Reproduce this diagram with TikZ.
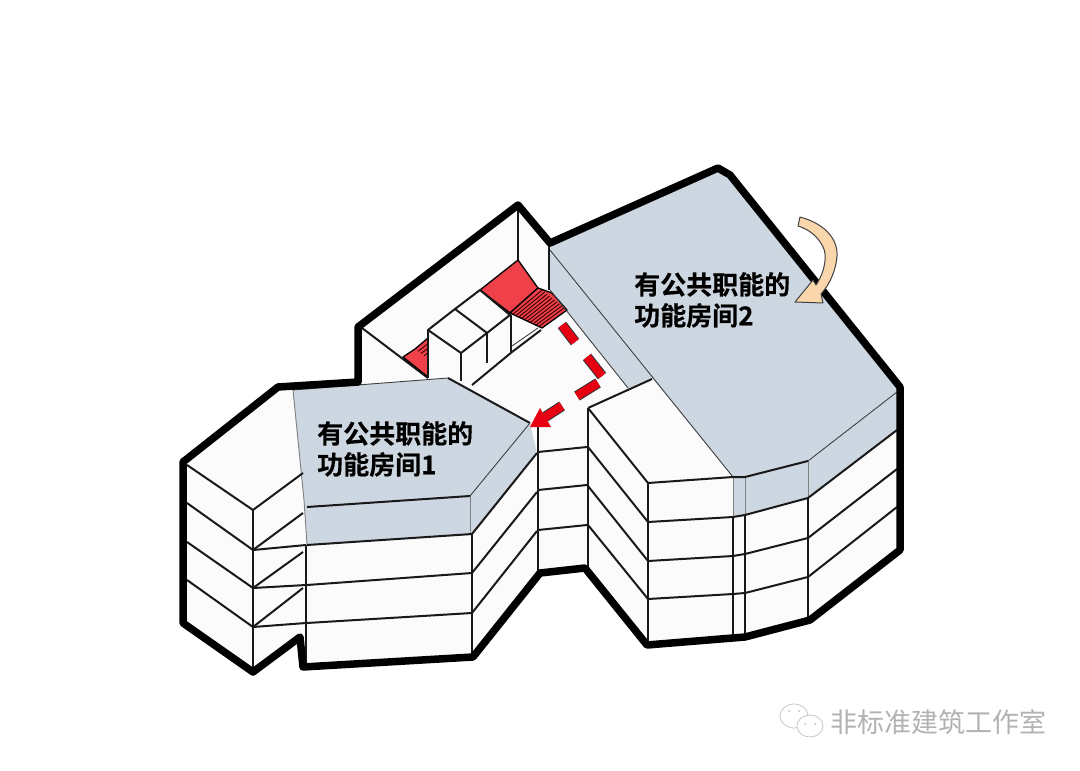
\documentclass[tikz,border=0pt]{standalone}
\usepackage{xcolor}
\usepackage{fontspec}
\usepackage[outline]{contour}
\usetikzlibrary{calc}
\newfontfamily\cjkbold[BoldFont={Noto Sans CJK SC Bold},BoldFeatures={FakeBold=0.6}]{Noto Sans CJK SC}
\newfontfamily\cjkplain{Noto Sans CJK SC}
\definecolor{roofblue}{HTML}{CDD7E1}
\definecolor{wallwhite}{HTML}{FBFBFB}
\definecolor{stairred}{HTML}{F0404A}
\definecolor{routered}{HTML}{E60012}
\definecolor{turnfill}{HTML}{FAD6AC}
\contourlength{2pt}

\begin{document}
\begin{tikzpicture}[
    x=1pt, y=-1pt,
    line join=round,
    outerline/.style={draw=black, line width=7.5pt},
    wall/.style={draw=black!90, line width=2pt},
    thinwall/.style={draw=black!75, line width=0.9pt},
    roof/.style={fill=roofblue},
    stair/.style={draw=black, line width=1.3pt, fill=stairred},
    tread/.style={draw=black!80!red, line width=0.9pt},
    routeseg/.style={line width=8.5pt, draw=routered,
        preaction={draw=black!80, line width=10.5pt}},
    roomlabel/.style={font=\cjkbold\bfseries\fontsize{26}{31}\selectfont, align=left, anchor=west, inner sep=0pt},
    logo/.style={draw=gray!45, line width=0.8pt, fill=white},
]
\useasboundingbox (0,0) rectangle (1080,771);

% --- White body of the whole block -------------------------------------------
\fill[wallwhite] (183,462) -- (278,387) -- (358,382) -- (358,327) -- (518,205)
    -- (550,243) -- (718,168) -- (730,175) -- (900,387) -- (900,550) -- (810,620)
    -- (745,637) -- (647,645) -- (585,568) -- (540,573) -- (473,657) -- (303,667)
    -- (300,637) -- (253,672) -- (183,623) -- cycle;

% --- Blue roofs and the strips below them --------------------------------------
\fill[roof] (550,245) -- (718,170) -- (730,177) -- (898,388) -- (897,430) -- (808,498)
    -- (745,515) -- (733,517) -- (733,477) -- (652,378) -- (628,388) -- (550,290) -- cycle;
\fill[roof] (293,390) -- (448,378) -- (530,423) -- (537,453) -- (472,535)
    -- (307,545) -- (304,500) -- cycle;

% --- Back wing: wall corners, stairs and the small boxes ----------------------
\draw[wall] (362,328) -- (428,378);
\draw[wall] (518,208) -- (518,260);
\draw[stair] (518,260) -- (538,288) -- (510,313) -- (480,290) -- cycle;
\draw[stair] (510,313) -- (538,288) -- (552,293) -- (567,310) -- (542,328) -- cycle;
\foreach \t in {0.09,0.18,...,0.95}
    \draw[tread] ($(510,313)!\t!(542,328)$) -- ($(540,288)!\t!(567,310)$);
\draw[stair] (403,357) -- (415,349) -- (428,338) -- (428,377) -- cycle;
\foreach \t in {0.25,0.5,0.75}
    \draw[tread] ($(415,349)!\t!(427,358)$) -- ($(427,340)!\t!(427,358)$);
\draw[wall] (428,330) -- (455,309) -- (487,333) -- (461,353) -- cycle;
\draw[wall] (455,309) -- (480,290) -- (510,315) -- (487,333);
\draw[wall] (428,330) -- (428,378);
\draw[wall] (461,353) -- (461,381);
\draw[wall] (487,333) -- (487,363);
\draw[wall] (511,315) -- (511,352);
\draw[wall] (472,385) -- (512,352) -- (541,330);
\draw[thinwall] (512,346) -- (538,328);

% --- Dashed route through the wing, ending in the red head --------------------
\draw[routeseg] (562,325) -- (575,342);
\draw[routeseg] (587,357) -- (602,376);
\draw[routeseg] (598,383) -- (577,396);
\draw[routeseg] (562,406) -- (545,417);
\fill[routered] (540,408) -- (551,427) -- (530,427) -- cycle;

% --- Edges of the right building -----------------------------------------------
\draw[thinwall] (550,250) -- (733,477);
\draw[thinwall] (550,290) -- (628,388);
\draw[wall] (588,408) -- (652,379);
\draw[wall] (549,245) -- (549,290);
\draw[wall] (588,408) -- (588,568);
\draw[wall] (648,483) -- (648,642);
\draw[wall] (733,517) -- (733,636);
\draw[wall] (745,515) -- (745,635);
\draw[wall] (808,498) -- (808,619);
\draw[thinwall, draw=gray] (733,477) -- (733,517);
\draw[thinwall, draw=gray] (745,477) -- (745,515);
\draw[thinwall, draw=gray] (808,461) -- (808,498);
\draw[wall] (588,408) -- (648,483) -- (733,477) -- (745,477) -- (808,461);
\draw[thinwall] (808,461) -- (897,392);
% floor lines, one row per storey
\foreach \u/\v/\w/\p/\q/\r in {447/522/517/515/498/430, 486/561/556/554/538/469, 525/599/594/593/577/507}
    \draw[wall] (588,\u) -- (648,\v) -- (733,\w) -- (745,\p) -- (808,\q) -- (897,\r);

% --- Middle part between the two buildings -------------------------------------
\draw[wall] (538,427) -- (538,572);
\foreach \u/\v in {452/447, 490/485, 530/525}
    \draw[wall] (538,\u) -- (587,\v);

% --- Left building: roof outline, storeys and side block ---------------------
\draw[thinwall] (293,390) -- (448,378);
\draw[wall] (448,378) -- (530,423);
\draw[thinwall] (530,423) -- (470,496);
\draw[wall] (307,507) -- (470,496);
\draw[thinwall, draw=gray] (293,390) -- (304,500) -- (307,545);
\draw[thinwall, draw=gray] (470,496) -- (470,535);
\draw[wall] (307,545) -- (472,534) -- (537,453);
\draw[wall] (307,585) -- (472,573) -- (537,492);
\draw[wall] (307,623) -- (472,613) -- (537,531);
\draw[wall] (472,535) -- (472,654);
\draw[wall] (306,545) -- (306,664);
\draw[wall] (187,465) -- (253,510) -- (303,473);
\draw[wall] (253,510) -- (253,670);
\foreach \u/\v/\w/\p in {503/550/513/545, 542/588/552/585, 580/627/588/623} {
    \draw[wall] (187,\u) -- (253,\v) -- (303,\w);
    \draw[wall] (253,\v) -- (306,\p);
}

% --- Heavy outline of everything -----------------------------------------------
\draw[outerline] (183,462) -- (278,387) -- (358,382) -- (358,327) -- (518,205)
    -- (550,243) -- (718,168) -- (730,175) -- (900,387) -- (900,550) -- (810,620)
    -- (745,637) -- (647,645) -- (585,568) -- (540,573) -- (473,657) -- (303,667)
    -- (300,637) -- (253,672) -- (183,623) -- cycle;

% --- Turning arrow at the corner of the roof ----------------------------------
\draw[draw=black!75, line width=1pt, fill=turnfill] (800,217)
    .. controls (826,224) and (838,240) .. (837,256)
    .. controls (836,270) and (830,284) .. (821,294)
    -- (823,303) -- (795,302) -- (813,280) -- (816,285)
    .. controls (826,270) and (827,254) .. (823,247)
    .. controls (818,236) and (808,229) .. (798,226) -- cycle;

% --- Room labels ------------------------------------------------------------------
\node[roomlabel] (room1) at (317,449)
    {\contour{white}{有公共职能的}\\\contour{white}{功能房间1}};
\node[roomlabel] (room2) at (634,300)
    {\contour{white}{有公共职能的}\\\contour{white}{功能房间2}};

% --- Account logo, lower right ---------------------------------------------------
\draw[logo] (794,716) ellipse (14 and 12);
\draw[logo] (810,726) ellipse (13 and 11);
\fill[gray!50] (789,711) circle (1) (799,711) circle (1) (805,724) circle (1) (815,724) circle (1);
\node[font=\cjkplain\fontsize{27}{27}\selectfont, text=white, anchor=west, inner sep=0pt] (logoshade) at (831,723.5) {非标准建筑工作室};
\node[font=\cjkplain\fontsize{27}{27}\selectfont, text=gray!60, anchor=west, inner sep=0pt] (logoname) at (830,722.5) {非标准建筑工作室};

\end{tikzpicture}
\end{document}
